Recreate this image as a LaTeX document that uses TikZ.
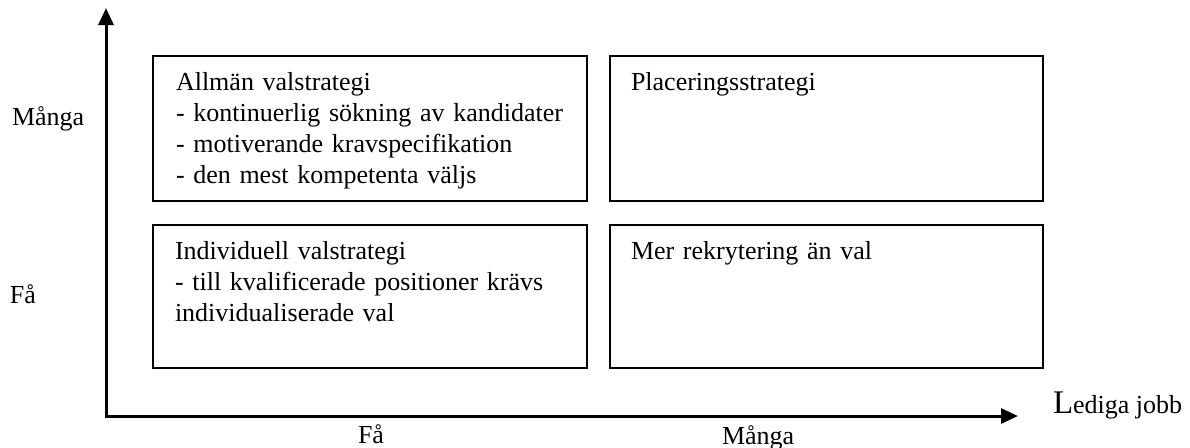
\documentclass[tikz,border=0pt]{standalone}
\usepackage{fontspec}
\setmainfont{Liberation Serif}
\usetikzlibrary{arrows.meta}
\begin{document}
\begin{tikzpicture}[x=0.5pt,y=-0.5pt,
  box/.style={draw,line width=1pt,inner sep=0pt,outer sep=0pt,anchor=north west},
  lbl/.style={anchor=base west,inner sep=0pt,outer sep=0pt,font=\fontsize{13}{15.5}\selectfont},
  boxtext/.style={lbl,align=left,text width=205pt},
  axis/.style={line width=1.5pt,line join=miter,{Triangle[length=8.5pt,width=7.5pt]}-{Triangle[length=8.5pt,width=7.5pt]}}]
\useasboundingbox (0,0) rectangle (1190,447);
% boxes
\node[box,minimum width=217pt,minimum height=72.5pt] (b1) at (153,56) {};
\node[box,minimum width=216.5pt,minimum height=72.5pt] (b2) at (610,56) {};
\node[box,minimum width=217pt,minimum height=71.5pt] (b3) at (153,225) {};
\node[box,minimum width=216.5pt,minimum height=71.5pt] (b4) at (610,225) {};
% box texts
\node[boxtext] (t1) at (176,90) {Allmän valstrategi\\- kontinuerlig sökning av kandidater\\- motiverande kravspecifikation\\- den mest kompetenta väljs};
\node[boxtext] (t2) at (631,90) {Placeringsstrategi};
\node[boxtext] (t3) at (175,259) {Individuell valstrategi\\- till kvalificerade positioner krävs\\individualiserade val};
\node[boxtext] (t4) at (631,259) {Mer rekrytering än val};
% axes
\coordinate (O) at (106,416);
\coordinate (ytop) at (106,8);
\coordinate (xend) at (1018,416);
\draw[axis] (ytop) -- (O) -- (xend);
% axis labels
\node[lbl] (ymany) at (12,125) {Många};
\node[lbl] (yfew) at (10,303) {Få};
\node[lbl] (xfew) at (358,443) {Få};
\node[lbl] (xmany) at (722,444) {Många};
\node[lbl] (xlab) at (1053,413) {{\fontsize{16.5}{18}\selectfont L}ediga jobb};
\end{tikzpicture}
\end{document}
